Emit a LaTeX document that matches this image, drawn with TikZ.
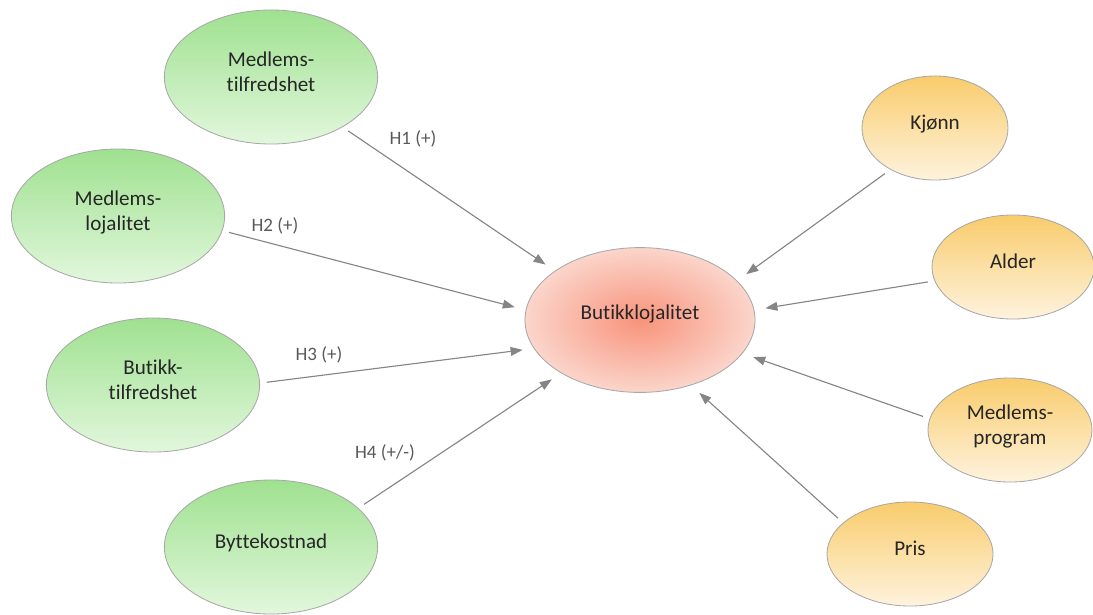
\documentclass[tikz,border=0pt]{standalone}
\usepackage{fontspec}
\setmainfont[Ligatures=NoCommon]{Carlito}
\usetikzlibrary{shapes.geometric,arrows.meta}

\definecolor{grtop}{HTML}{9FE190}
\definecolor{grbot}{HTML}{E2F7DC}
\definecolor{ortop}{HTML}{F9CC6C}
\definecolor{orbot}{HTML}{FEF3DE}
\definecolor{rdin}{HTML}{F8937B}
\definecolor{rdout}{HTML}{FBD5CB}
\definecolor{rim}{HTML}{A8A8A8}
\definecolor{linkgray}{HTML}{858585}
\definecolor{txt}{HTML}{262626}
\definecolor{lbl}{HTML}{595959}

\tikzset{
  blob/.style={ellipse, draw=rim, line width=0.6pt, align=center, text=txt, inner sep=0pt,
    text depth=8pt, font=\fontsize{15}{18}\selectfont},
  driver/.style={blob, top color=grtop, bottom color=grbot, minimum width=5.33cm, minimum height=3.35cm},
  control/.style={blob, top color=ortop, bottom color=orbot, minimum height=2.6cm},
  target/.style={blob, inner color=rdin, outer color=rdout, text depth=11pt,
    minimum width=5.75cm, minimum height=3.62cm},
  link/.style={draw=linkgray, line width=0.8pt, shorten <=0.17cm, shorten >=0.28cm,
    -{Triangle[length=0.3cm,width=0.22cm]}},
  hyp/.style={text=lbl, font=\fontsize{13.5}{16}\selectfont}
}

\begin{document}
\begin{tikzpicture}[x=0.025cm, y=-0.025cm]
    \useasboundingbox (0,0) rectangle (1093,614);
    \node[driver] (mt) at (271,77) {Medlems-\\tilfredshet};
    \node[driver] (ml) at (118,216) {Medlems-\\lojalitet};
    \node[driver] (bt) at (153,385) {Butikk-\\tilfredshet};
    \node[driver] (bk) at (271,547) {Byttekostnad};
    \node[target] (bl) at (640,320) {Butikklojalitet};
    \node[control, minimum width=3.65cm] (kj) at (935,128) {Kjønn};
    \node[control, minimum width=4.05cm] (al) at (1013,267) {Alder};
    \node[control, minimum width=4.1cm] (mp) at (1010,430) {Medlems-\\program};
    \node[control, minimum width=4.15cm] (pr) at (910,554) {Pris};

    \draw[link] (mt.-35) -- (bl.150);
    \draw[link] (ml.-8) -- (bl.175);
    \draw[link] (bt.1) -- (bl.195);
    \draw[link] (bk.24) -- (bl.214);
    \draw[link] (kj.-137) -- (bl.22);
    \draw[link] (al.190) -- (bl.5);
    \draw[link] (mp.172) -- (bl.-18);
    \draw[link] (pr.155) -- (bl.-52);

    \node[hyp] (h1) at (413,139) {H1 (+)};
    \node[hyp] (h2) at (275,226) {H2 (+)};
    \node[hyp] (h3) at (319,355) {H3 (+)};
    \node[hyp] (h4) at (385,453) {H4 (+/-)};
\end{tikzpicture}
\end{document}
